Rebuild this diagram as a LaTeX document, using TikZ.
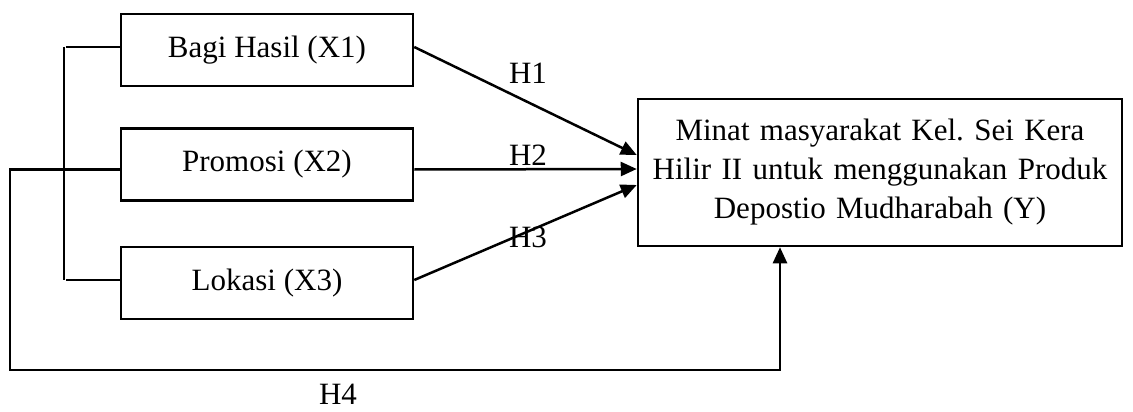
\documentclass[tikz,border=0pt]{standalone}
\usepackage{fontspec}
\setmainfont{Liberation Serif}
\usetikzlibrary{arrows.meta}
\begin{document}
\frenchspacing
\begin{tikzpicture}[x=1pt,y=-1pt,line width=2.5pt,
  txt/.style={font=\fontsize{31}{39}\selectfont},
  varbox/.style={draw,txt,minimum width=292pt,minimum height=72pt,inner sep=0pt},
  depbox/.style={draw,txt,minimum width=484pt,minimum height=147pt,inner sep=0pt,
                 text width=470pt,align=center},
  arr/.style={-{Triangle[length=16pt,width=14pt]}},
  lbl/.style={txt,inner sep=0pt}]
  \useasboundingbox (0,0) rectangle (1133,412);

  % independent variables
  \node[varbox] (x1) at (267,50)    {Bagi Hasil (X1)};
  \node[varbox] (x2) at (267,164.5) {Promosi (X2)};
  \node[varbox] (x3) at (267,283)   {Lokasi (X3)};

  % dependent variable
  \node[depbox] (y) at (880,172.5)
    {Minat masyarakat Kel. Sei Kera\\Hilir II untuk menggunakan Produk\\Depostio Mudharabah (Y)};

  % bracket joining X1 and X3
  \coordinate (b1) at (64,47);
  \coordinate (b2) at (64,280);
  \draw (b1) -- (b2);
  \draw ([yshift=3pt]x1.west) -- (b1 -| 66,0);
  \draw ([yshift=3pt]x3.west) -- (b2 -| 66,0);

  % partial effects
  \draw[arr] ([yshift=3pt]x1.east) -- ([yshift=17.5pt]y.west);
  \draw[arr] ([yshift=-5pt]x2.east) -- ([yshift=3.5pt]y.west);
  \draw[arr] ([yshift=3pt]x3.east) -- ([yshift=-12.5pt]y.west);

  % simultaneous effect
  \coordinate (c1) at (10,370);
  \coordinate (c2) at (780,370);
  \draw[arr] ([yshift=-5pt]x2.west) -| (c1) -- (c2) -- (c2 |- y.south);

  % hypothesis labels
  \node[lbl] (h1) at (528,73)  {H1};
  \node[lbl] (h2) at (528,155) {H2};
  \node[lbl] (h3) at (528,237) {H3};
  \node[lbl] (h4) at (338,394) {H4};
\end{tikzpicture}
\end{document}
